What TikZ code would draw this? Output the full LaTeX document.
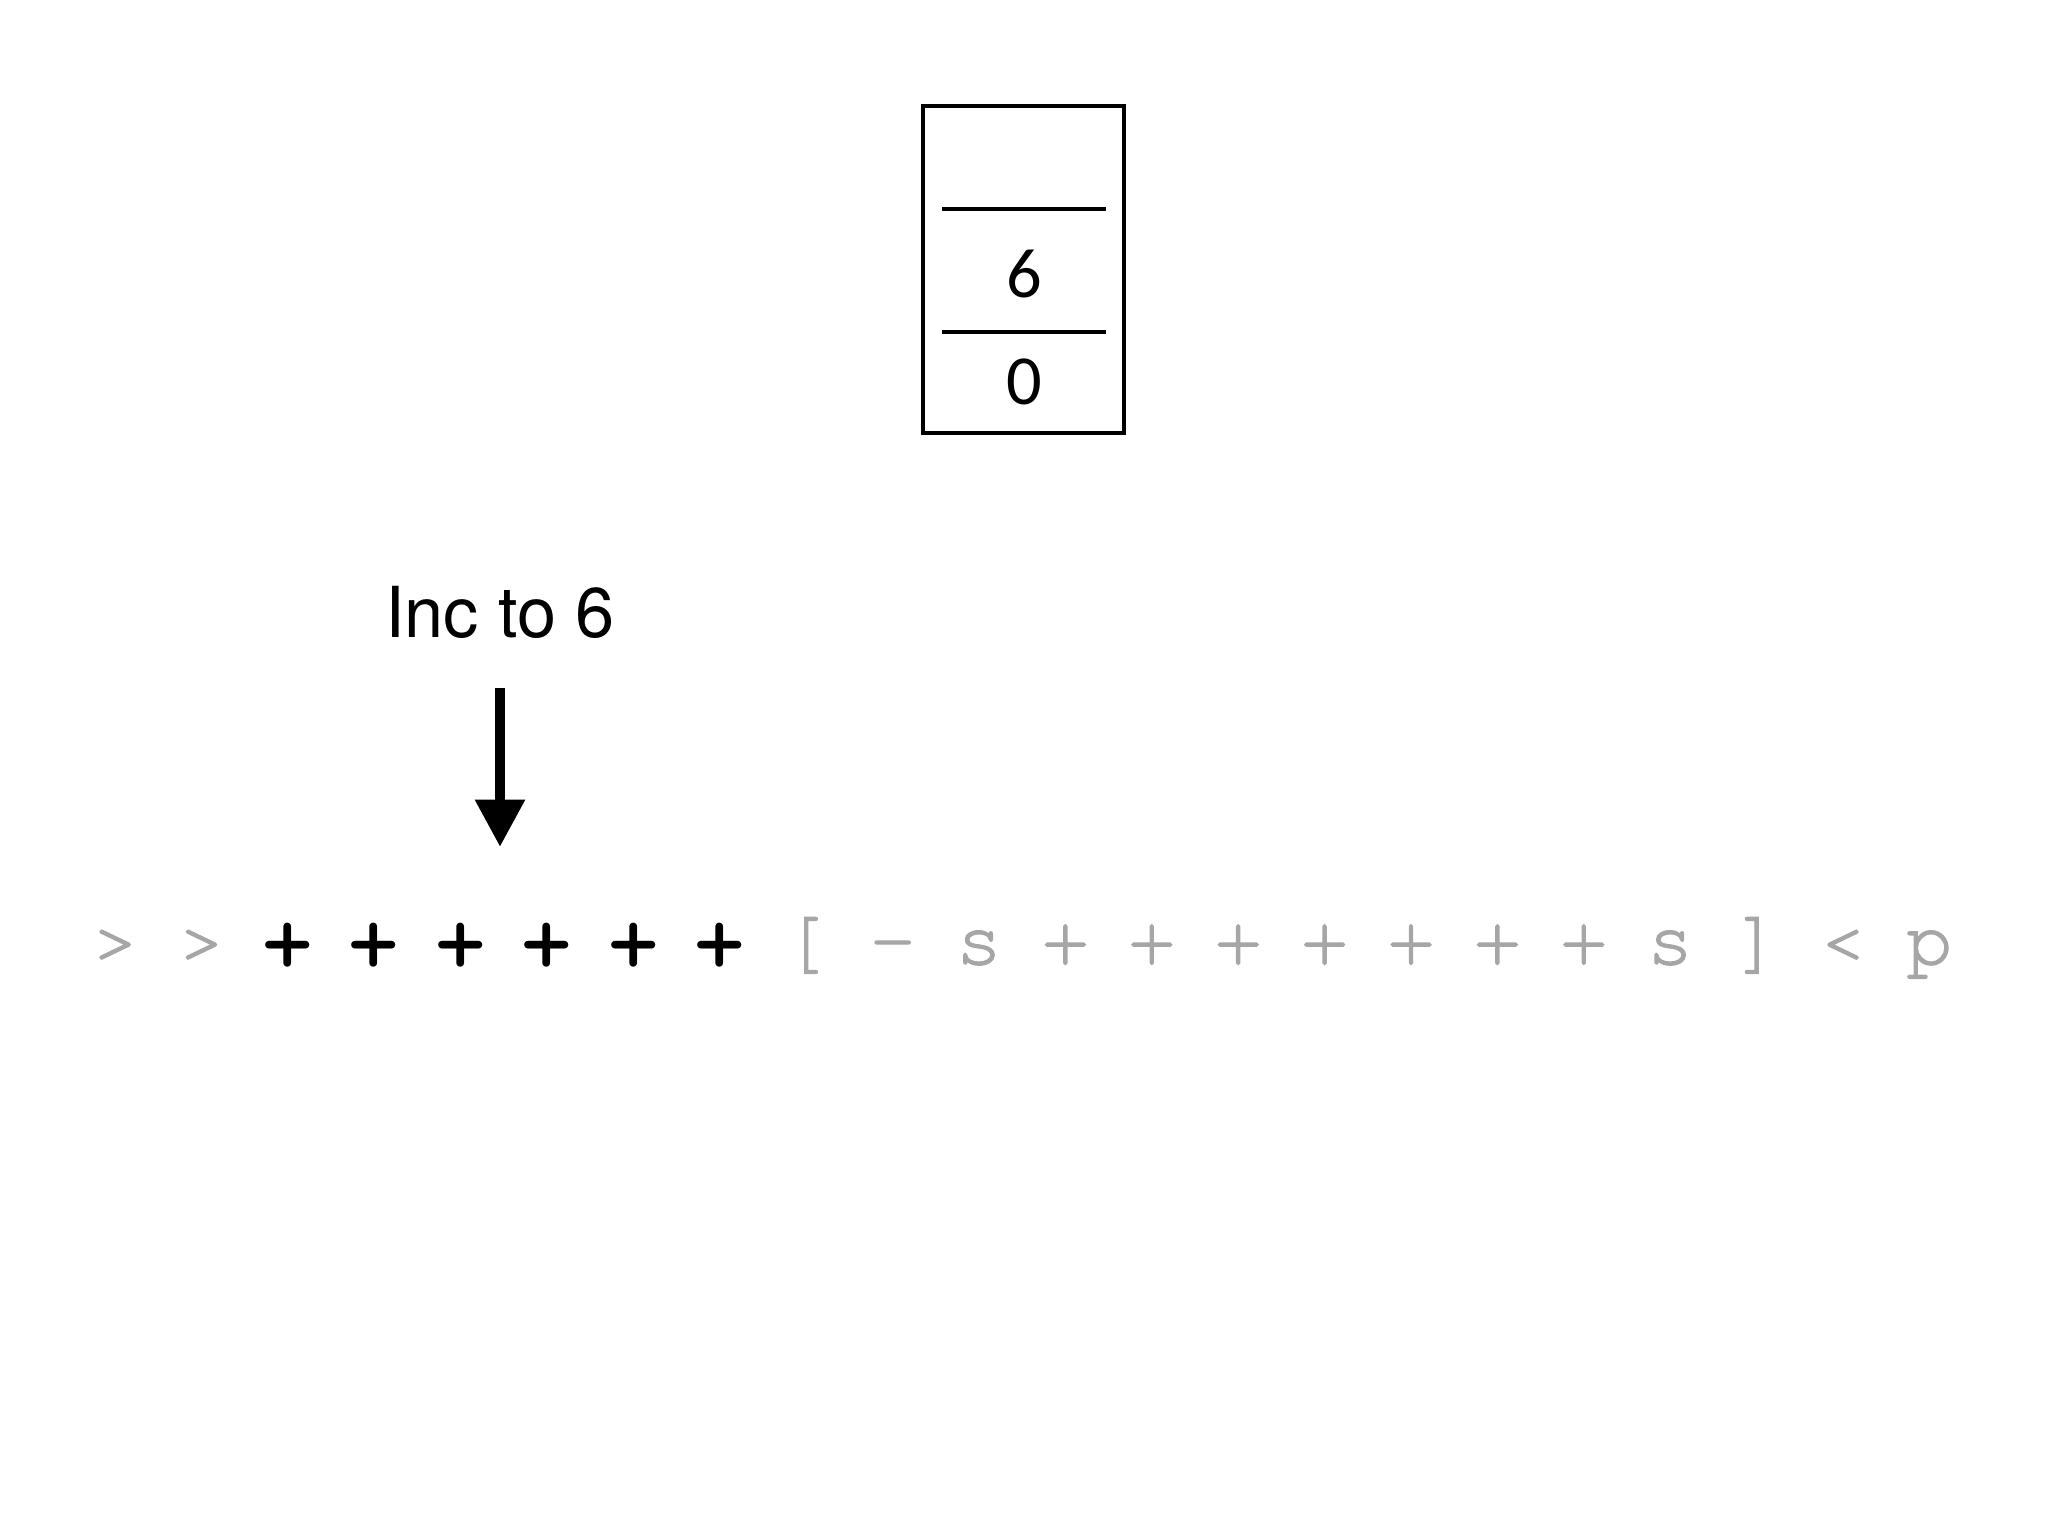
\documentclass[tikz,border=0pt]{standalone}
\usepackage{fontspec}
\setmainfont{TeX Gyre Heros}
\newfontfamily\codefont{TeX Gyre Cursor}
\newfontfamily\codelight[FakeBold=1.6]{TeX Gyre Cursor}
\newfontfamily\cellfont{Carlito}
\usetikzlibrary{arrows.meta}
\definecolor{codegray}{HTML}{A6A6A6}
\tikzset{
	cell/.style={anchor=base, font=\cellfont\fontsize{20}{24}\selectfont},
	opdone/.style={anchor=base, font=\codefont\bfseries\fontsize{22}{26}\selectfont, text=black},
	oprest/.style={anchor=base, font=\codelight\fontsize{22}{26}\selectfont, text=codegray},
}
\begin{document}
\begin{tikzpicture}[x=0.01cm, y=-0.01cm]
	\useasboundingbox (0,0) rectangle (2048,1536);
	% tape
	\draw [line width=1.1pt] (923,106) rectangle (1124,433);
	\draw [line width=1.1pt] (942,209) -- (1106,209);
	\draw [line width=1.1pt] (942,332) -- (1106,332);
	\node [cell] (cellA) at (1024,297) {6};
	\node [cell] (cellB) at (1024,404) {0};
	% pointer
	\node [anchor=base, font=\fontsize{20}{24}\selectfont] (note) at (500,637) {Inc to 6};
	\coordinate (ptrtop) at (500,688);
	\coordinate (ptrtip) at (500,847);
	\draw [line width=3.1pt, -{Triangle[length=13.5pt,width=13.5pt]}] (ptrtop) -- (ptrtip);
	% program
	\foreach \ch/\sty [count=\i from 0] in {>/oprest, >/oprest, +/opdone, +/opdone, +/opdone, +/opdone, +/opdone, +/opdone, [/oprest, -/oprest, s/oprest, +/oprest, +/oprest, +/oprest, +/oprest, +/oprest, +/oprest, +/oprest, s/oprest, ]/oprest, </oprest, p/oprest}
		\node [\sty] (op\i) at (115+86.4*\i,964) {\ch};
\end{tikzpicture}
\end{document}
